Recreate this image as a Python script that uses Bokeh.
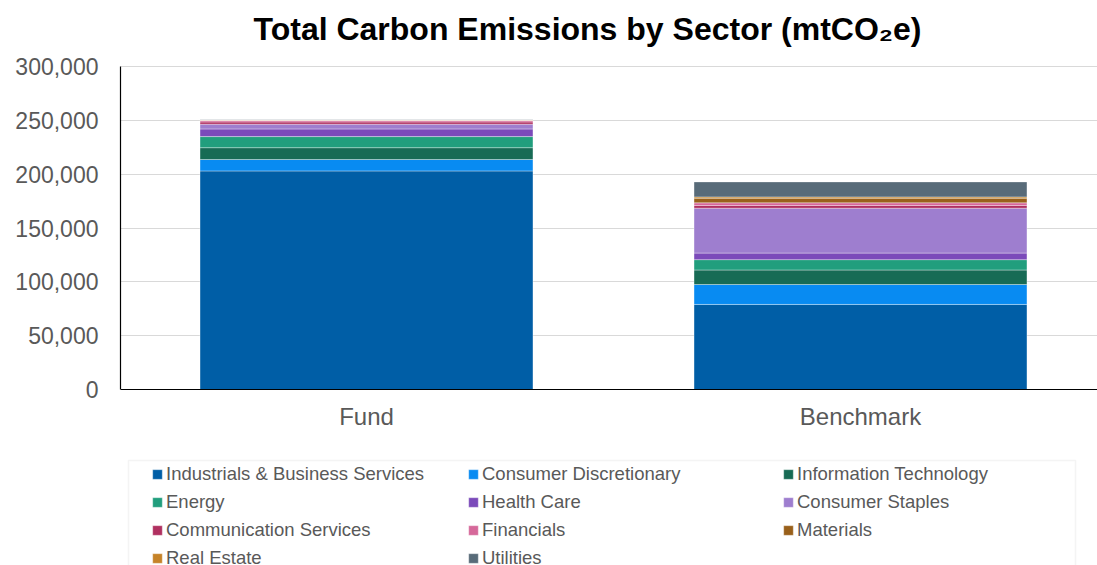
from bokeh.plotting import figure
from bokeh.models import (ColumnDataSource, Legend, LegendItem, Range1d, FixedTicker,
                          NumeralTickFormatter, Span, BoxAnnotation)
from bokeh.core.properties import value
from bokeh.embed import file_html
from bokeh.resources import INLINE

categories = ["Fund", "Benchmark"]
sectors = ["Industrials & Business Services", "Consumer Discretionary", "Information Technology",
           "Energy", "Health Care", "Consumer Staples",
           "Communication Services", "Financials", "Materials",
           "Real Estate", "Utilities"]
industrials = [203000, 79000]
consumer_discretionary = [10600, 18500]
information_technology = [11000, 13500]
energy = [10300, 9600]
health_care = [7100, 6100]
consumer_staples = [4400, 41700]
communication_services = [2100, 2500]
financials = [1300, 2500]
materials = [300, 4300]
real_estate = [100, 1200]
utilities = [300, 13900]
y_ticks = [0, 50000, 100000, 150000, 200000, 250000, 300000]

values = [industrials, consumer_discretionary, information_technology, energy, health_care,
          consumer_staples, communication_services, financials, materials, real_estate, utilities]
colors = ["#005EA6", "#088BF2", "#176B55", "#219E7D", "#7B4ABA", "#9E7ECF",
          "#B03060", "#D6689A", "#99601A", "#C68328", "#586B79"]

# layout (pixels)
W, H = 1097, 565
FRAME_LEFT, FRAME_TOP = 120, 52
TOP_TICK_Y, ZERO_Y = 66, 389
Y_MAX = y_ticks[-1]
per_px = Y_MAX / (ZERO_Y - TOP_TICK_Y)
y_start = -(H - ZERO_Y) * per_px
y_end = Y_MAX + (TOP_TICK_Y - FRAME_TOP) * per_px
UNIT = 494.0
x_start = -246.0 / UNIT
x_end = x_start + (W - FRAME_LEFT) / UNIT

data = {"x": list(range(len(categories))), "category": categories}
for s, v in zip(sectors, values):
    data[s] = v
src = ColumnDataSource(data)

FONT = "Liberation Sans"
GRAY = "#595959"

p = figure(width=W, height=H, output_backend="svg", toolbar_location=None,
           x_range=Range1d(x_start, x_end), y_range=Range1d(y_start, y_end),
           x_axis_location=None,
           min_border_left=FRAME_LEFT, min_border_right=0, min_border_top=FRAME_TOP,
           min_border_bottom=0)

p.title.text = "Total Carbon Emissions by Sector (mtCO\u2082e)"
p.title.text_font = FONT
p.title.text_font_size = "32px"
p.title.text_font_style = "bold"
p.title.text_color = "black"
p.title.align = "left"
p.title.offset = 133
p.title.standoff = 12

renderers = p.vbar_stack(sectors, x="x", width=0.674, source=src, color=colors,
                         line_color="white", line_alpha=0.35, line_width=1)

p.outline_line_color = None
p.xgrid.grid_line_color = None
p.xgrid.visible = False
p.ygrid.grid_line_color = "#D9D9D9"
p.ygrid.grid_line_width = 1
p.yaxis.ticker = FixedTicker(ticks=y_ticks)
p.yaxis.bounds = (0, Y_MAX)
p.yaxis.formatter = NumeralTickFormatter(format="0,0")
p.yaxis.axis_line_color = "black"
p.yaxis.axis_line_width = 1.2
p.yaxis.major_tick_line_color = None
p.yaxis.minor_tick_line_color = None
p.yaxis.major_tick_out = 0
p.yaxis.major_tick_in = 0
p.yaxis.major_label_text_font = FONT
p.yaxis.major_label_text_color = GRAY
p.yaxis.major_label_text_font_size = "23px"
p.yaxis.major_label_standoff = 22

# category axis line and labels
p.add_layout(Span(location=0, dimension="width", line_color="black", line_width=1.2))
p.text(x="x", y=0, text="category", source=src, text_font=value(FONT),
       text_font_size="24px", text_color=GRAY, text_align="center",
       text_baseline="top", y_offset=13)

# legend frame
p.add_layout(BoxAnnotation(left=8, right=955, top=H - 460, bottom=-20,
                           left_units="screen", right_units="screen",
                           top_units="screen", bottom_units="screen",
                           fill_color="white", fill_alpha=1.0,
                           line_color="#D9D9D9", line_width=1.5))

items = [LegendItem(label=s, renderers=[r]) for s, r in zip(sectors, renderers)]
ROW_H, SP, ROW1_TOP = 26, 2, 461
glyph_x = [151, 467, 782]
for ci in range(3):
    col_items = items[ci::3]
    n = len(col_items)
    lh = n * ROW_H + (n - 1) * SP
    lg = Legend(items=col_items, orientation="vertical",
                location=(glyph_x[ci] - FRAME_LEFT, H - ROW1_TOP - lh),
                label_text_font=FONT, label_text_font_size="18.5px", label_text_color=GRAY,
                glyph_width=12, glyph_height=12, label_standoff=3,
                label_height=ROW_H, spacing=SP, padding=0,
                border_line_color=None, background_fill_alpha=0)
    p.add_layout(lg, "center")

open("out.html", "w").write(file_html(p, INLINE))
